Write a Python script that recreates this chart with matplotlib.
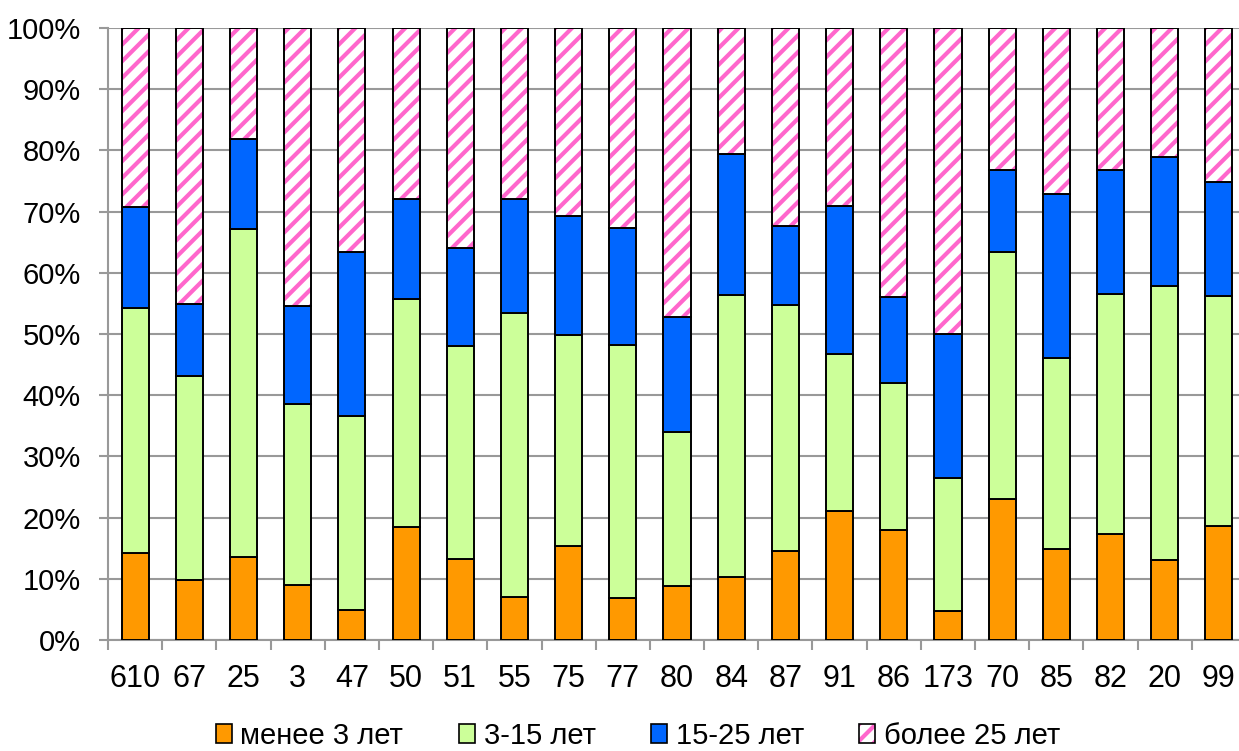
import numpy as np
import matplotlib.pyplot as plt
from matplotlib.patches import Patch

plt.rcParams['font.family'] = ['Liberation Sans', 'DejaVu Sans']
plt.rcParams['hatch.linewidth'] = 3.0

categories = ['610', '67', '25', '3', '47', '50', '51', '55', '75', '77', '80',
              '84', '87', '91', '86', '173', '70', '85', '82', '20', '99']

# shares in percent, bottom to top
under3 = [14.2, 9.8, 13.6, 9.0, 4.9, 18.5, 13.3, 7.0, 15.3, 6.8, 8.8,
          10.3, 14.5, 21.0, 18.0, 4.7, 23.1, 14.8, 17.4, 13.1, 18.7]
y3_15 = [40.0, 33.3, 53.6, 29.6, 31.7, 37.3, 34.7, 46.4, 34.6, 41.4, 25.2,
         46.1, 40.3, 25.8, 24.0, 21.8, 40.3, 31.2, 39.1, 44.7, 37.5]
y15_25 = [16.6, 11.8, 14.7, 15.9, 26.8, 16.3, 16.0, 18.7, 19.3, 19.1, 18.7,
          23.0, 12.8, 24.1, 14.0, 23.5, 13.4, 26.9, 20.3, 21.1, 18.7]
over25 = [29.2, 45.1, 18.1, 45.5, 36.6, 27.9, 36.0, 27.9, 30.8, 32.7, 47.3,
          20.6, 32.4, 29.1, 44.0, 50.0, 23.2, 27.1, 23.2, 21.1, 25.1]

labels = ['менее 3 лет', '3-15 лет', '15-25 лет', 'более 25 лет']
colors = ['#FF9900', '#CCFF99', '#0066FF', '#FF66CC']

W, H = 1239, 751
fig = plt.figure(figsize=(W / 100, H / 100), dpi=100)
ax = fig.add_axes([108 / W, 1 - 640 / H, 1138 / W, 612 / H])

x = np.arange(len(categories))
w = 0.5
bottom = np.zeros(len(x))
for vals, c in zip([under3, y3_15, y15_25], colors[:3]):
    ax.bar(x, vals, w, bottom=bottom, color=c, edgecolor='black', linewidth=1.4, zorder=3)
    bottom += np.array(vals)
# hatched top segment: pink stripes, then black outline
ax.bar(x, over25, w, bottom=bottom, color='white', edgecolor=colors[3], hatch='//',
       linewidth=0, zorder=3)
ax.bar(x, over25, w, bottom=bottom, fill=False, edgecolor='black', linewidth=1.4, zorder=4)

ax.set_xlim(-0.5, len(x) - 0.5)
ax.set_ylim(0, 100)
ax.set_yticks(np.arange(0, 101, 10))
ax.set_yticklabels([f'{v}%' for v in range(0, 101, 10)], fontsize=21)
ax.set_xticks(x)
ax.set_xticklabels(categories, fontsize=22)
ax.set_xticks(np.arange(-0.5, len(x), 1), minor=True)
ax.tick_params(axis='x', which='major', length=0, pad=17)
ax.tick_params(axis='x', which='minor', length=7, width=1.5, color='#999999')
ax.tick_params(axis='y', length=6.5, width=1.5, color='#999999', pad=13)
ax.grid(axis='y', color='#999999', linewidth=1.5, zorder=0)
for s in ['top', 'right']:
    ax.spines[s].set_visible(False)
for s in ['left', 'bottom']:
    ax.spines[s].set_color('#999999')
    ax.spines[s].set_linewidth(1.5)

handles = [Patch(facecolor=c, edgecolor='black', linewidth=1.2) for c in colors[:3]]
handles.append((Patch(facecolor='white', edgecolor=colors[3], hatch='//', linewidth=0),
                Patch(fill=False, edgecolor='black', linewidth=1.2)))
leg = fig.legend(handles, labels, loc='center', bbox_to_anchor=(0.515, 1 - 736 / H), ncol=4,
                 frameon=False, fontsize=21, handlelength=0.55, handleheight=0.6,
                 handletextpad=0.3, columnspacing=1.9, borderpad=0)

fig.savefig('out.png', dpi=100)
